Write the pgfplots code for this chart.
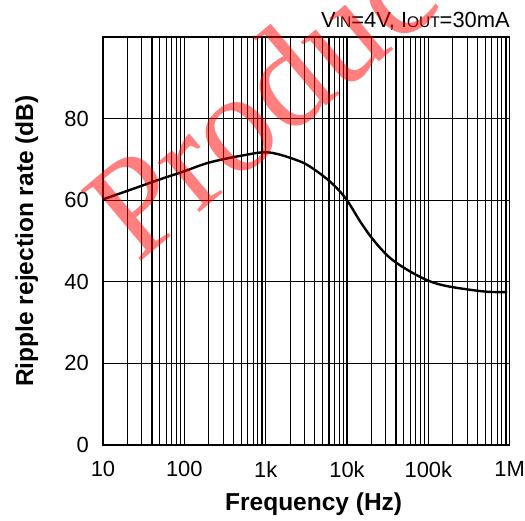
\documentclass[border=0pt]{standalone}
\usepackage{fontspec}
\setmainfont{Liberation Sans}
\newfontfamily\wmfont{Liberation Serif}
\usepackage{pgfplots}
\pgfplotsset{compat=1.18}
\begin{document}
\begin{tikzpicture}
\begin{axis}[
  name=ax,
  at={(0,0)}, anchor=south west,
  scale only axis,
  width=406.7bp, height=408bp,
  xmode=log,
  xmin=10, xmax=1000000,
  ymin=0, ymax=100,
  xtick={10,100,1000,10000,100000,1000000},
  xticklabels={10,100,1k,10k,100k,1M},
  ytick={0,20,40,60,80},
  minor x tick num=8,
  xmajorgrids, xminorgrids, ymajorgrids,
  grid style={black, line width=1.1bp},
  minor grid style={black, line width=1.1bp},
  major grid style={black, line width=1.1bp},
  axis line style={black, line width=1.2bp},
  major tick length=0pt, minor tick length=0pt,
  /pgf/number format/assume math mode=true,
  tick label style={font=\fontsize{22}{24}\selectfont},
  y tick label style={inner xsep=0pt, xshift=-14bp},
  x tick label style={inner ysep=0pt, yshift=-16bp, anchor=north},
  xlabel={\bfseries Frequency (Hz)},
  ylabel={\bfseries Ripple rejection rate (dB)},
  label style={font=\fontsize{24.6}{26}\selectfont},
  x label style={at={(axis description cs:0.518,0)}, anchor=base, yshift=-65.7bp},
  y label style={at={(axis description cs:-0.1721,0.5)}, anchor=base, rotate=0},
]
\addplot[black, line width=2.4bp, smooth, tension=0.55] table {
x y
10 60.2
20 62.3
50 65.1
100 67.1
200 69.2
500 70.9
1100 71.7
2650 69.5
4250 67.1
6800 63.8
9900 60.1
14500 54.8
21000 50.3
34000 45.8
60000 42.5
105000 40.1
185000 38.8
500000 37.6
930000 37.5
};
\end{axis}
\node[anchor=base east, font=\fontsize{22}{24}\selectfont, inner sep=0pt] at (407bp,417bp)
  {V{\fontsize{15.5}{16}\selectfont IN}=4V, I{\fontsize{15.5}{16}\selectfont OUT}=30mA};
\node[anchor=base west, rotate=40, text=red, opacity=0.5, font=\wmfont\fontsize{142}{142}\selectfont, inner sep=0pt] at (34bp,180bp) {Product};
\pgfresetboundingbox
\path (-103bp,-76bp) rectangle (422bp,445bp);
\end{tikzpicture}
\end{document}
